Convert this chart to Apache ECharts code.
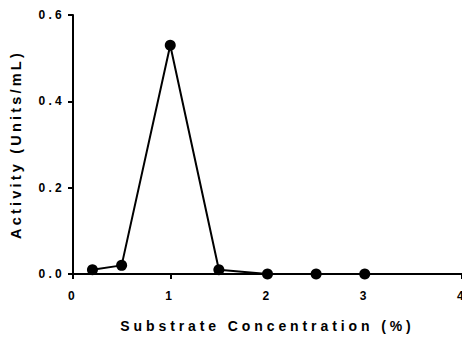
<!DOCTYPE html>
<html><head><meta charset="utf-8">
<style>
html,body{margin:0;padding:0;background:#fff;}
#chart{width:462px;height:338px;}
#chart text{letter-spacing:3.3px;}
#chart text[style*="14px"]{letter-spacing:3.9px;}
#chart text[style*="14.5px"]{letter-spacing:3.2px;}
</style>
<script src="https://cdn.jsdelivr.net/npm/echarts@6/dist/echarts.min.js"></script>
</head><body>
<div id="chart"></div>
<script>
const xValues = [0.2, 0.5, 1, 1.5, 2, 2.5, 3];
const activity = [0.01, 0.02, 0.53, 0.01, 0.0, 0.0, 0.0];
const xTicks = [0, 1, 2, 3, 4];
const yTicks = [0.0, 0.2, 0.4, 0.6];

const chart = echarts.init(document.getElementById('chart'), null, {renderer: 'svg'});
const font = 'Liberation Sans';
chart.setOption({
  animation: false,
  backgroundColor: '#fff',
  grid: {left: 73, right: 0, top: 15, bottom: 64, containLabel: false, outerBoundsMode: 'none'},
  xAxis: {
    type: 'value', min: 0, max: 4, interval: 1,
    name: 'Substrate Concentration (%)', nameLocation: 'middle', nameGap: 45,
    nameTextStyle: {fontFamily: font, fontWeight: 'bold', fontSize: 14, color: '#000'},
    axisLine: {show: true, onZero: false, lineStyle: {color: '#000', width: 2}},
    axisTick: {show: true, length: 5, lineStyle: {color: '#000', width: 2}},
    axisLabel: {fontFamily: font, fontWeight: 'bold', fontSize: 12, color: '#000', margin: 16,
      formatter: v => xTicks.includes(v) ? String(v) : ''},
    splitLine: {show: false}
  },
  yAxis: {
    type: 'value', min: 0, max: 0.6, interval: 0.2,
    name: 'Activity (Units/mL)', nameLocation: 'middle', nameGap: 50,
    nameTextStyle: {fontFamily: font, fontWeight: 'bold', fontSize: 14.5, color: '#000'},
    axisLine: {show: true, lineStyle: {color: '#000', width: 2}},
    axisTick: {show: true, length: 5, lineStyle: {color: '#000', width: 2}},
    axisLabel: {fontFamily: font, fontWeight: 'bold', fontSize: 12, color: '#000', margin: 8,
      formatter: v => { const t = yTicks.find(y => Math.abs(y - v) < 1e-9); return t === undefined ? '' : t.toFixed(1); }},
    splitLine: {show: false}
  },
  series: [{
    type: 'line',
    data: xValues.map((x, i) => [x, activity[i]]),
    symbol: 'circle', symbolSize: 11,
    itemStyle: {color: '#000'},
    lineStyle: {color: '#000', width: 2},
    clip: false
  }]
});
</script>
</body></html>
